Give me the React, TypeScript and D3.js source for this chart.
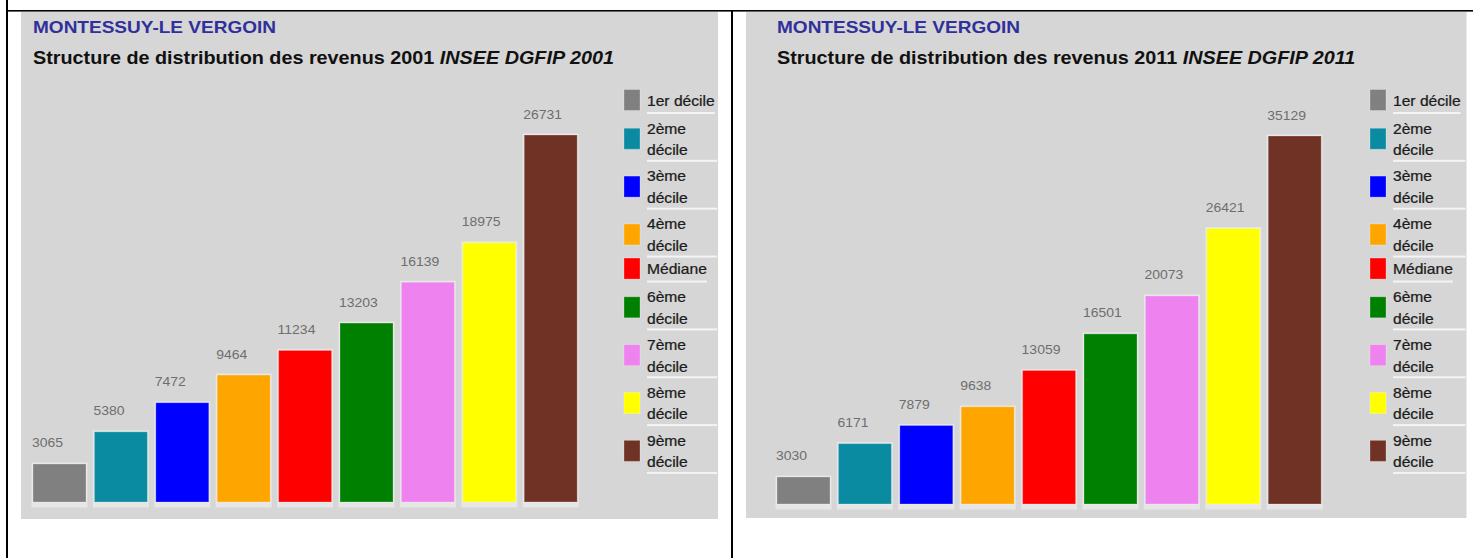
import React from "react";
import * as d3 from "d3";

const categories = ["1er décile", "2ème décile", "3ème décile", "4ème décile", "Médiane", "6ème décile", "7ème décile", "8ème décile", "9ème décile"];
const colors = ["#808080", "#0a8ba1", "#0000ff", "#ffa500", "#ff0000", "#008000", "#ee82ee", "#ffff00", "#6f3224"];
const values2001 = [3065, 5380, 7472, 9464, 11234, 13203, 16139, 18975, 26731];
const values2011 = [3030, 6171, 7879, 9638, 13059, 16501, 20073, 26421, 35129];
const place = "MONTESSUY-LE VERGOIN";

const FONT = "'Liberation Sans', Arial, sans-serif";
const SX = 1.1;

let measureCtx: CanvasRenderingContext2D | null = null;
function measure(text: string, size: number) {
  if (!measureCtx) measureCtx = document.createElement("canvas").getContext("2d");
  if (!measureCtx) return text.length * size * 0.5;
  measureCtx.font = `${size}px ${FONT}`;
  return measureCtx.measureText(text).width * SX;
}

function wrap(label: string): string[] {
  if (label.length > 10) {
    const i = label.indexOf(" ");
    return [label.slice(0, i), label.slice(i + 1)];
  }
  return [label];
}

type ChartProps = {
  year: string;
  values: number[];
  panel: { x0: number; x1: number; y0: number; y1: number };
  barLeft: number;
  barBottom: number;
  barTop: number;
  domainMin: number;
  legendX: number;
};

function Chart({ year, values, panel, barLeft, barBottom, barTop, domainMin, legendX }: ChartProps) {
  const x = d3.scaleBand<string>().domain(categories).range([barLeft, barLeft + 544.2]).paddingInner(0.137).paddingOuter(0);
  const y = d3.scaleLinear().domain([domainMin, d3.max(values) as number]).range([barBottom, barTop]);
  const bw = x.bandwidth();

  let cursor = 88;
  const items = categories.map((c, i) => {
    const lines = wrap(c);
    const h = lines.length === 1 ? 25 : 47.85;
    const top = cursor;
    cursor += h;
    const centers = lines.length === 1 ? [top + 12.5] : [top + 15.5, top + 37];
    return { c, i, lines, top, h, centers };
  });
  const legFont = 14.2;
  const textX = legendX + 23;

  return (
    <g>
      <rect x={panel.x0} y={panel.y0} width={panel.x1 - panel.x0} height={panel.y1 - panel.y0} fill="#d6d6d6" />
      <text transform={`translate(${barLeft},33) scale(${SX},1)`} fontFamily={FONT} fontWeight="bold" fontSize={17.3} fill="#30309a">
        {place}
      </text>
      <text transform={`translate(${barLeft},63.5) scale(${SX},1)`} fontFamily={FONT} fontWeight="bold" fontSize={18} fill="#111">
        {`Structure de distribution des revenus ${year} `}
        <tspan fontStyle="italic">{`INSEE DGFIP ${year}`}</tspan>
      </text>
      {values.map((v, i) => {
        const bx = x(categories[i]) as number;
        const by = y(v);
        return (
          <g key={i}>
            <rect x={bx - 1.5} y={by - 1.5} width={bw + 3} height={barBottom - by + 7} fill="#e6e6e6" />
            <rect x={bx} y={by} width={bw} height={barBottom - by} fill={colors[i]} stroke="rgba(255,255,255,0.25)" strokeWidth={1} />
            <text transform={`translate(${bx - 1},${by - 16.5}) scale(${SX},1)`} fontFamily={FONT} fontSize={12.7} fill="#6e6e6e">
              {v}
            </text>
          </g>
        );
      })}
      {items.map((it) => {
        const sc = (it.centers[0] + it.centers[it.centers.length - 1]) / 2 - 0.5;
        const sepEnd = it.lines.length === 1 ? textX + measure(it.lines[0], legFont) : panel.x1 - 1;
        return (
          <g key={it.c}>
            <rect x={legendX} y={sc - 10.5} width={16} height={21} fill={colors[it.i]} stroke="rgba(255,255,255,0.25)" strokeWidth={1} />
            {it.lines.map((l, j) => (
              <text key={j} transform={`translate(${textX},${it.centers[j] + legFont * 0.36}) scale(${SX},1)`} fontFamily={FONT} fontSize={legFont} fill="#1c1c1c" stroke="#1c1c1c" strokeWidth={0.25}>
                {l}
              </text>
            ))}
            <rect x={textX} y={it.top + it.h - 1} width={sepEnd - textX} height={2} fill="#f4f4f4" />
          </g>
        );
      })}
    </g>
  );
}

export default function App() {
  return (
    <svg width={1473} height={558} style={{ position: "absolute", left: 0, top: 0, background: "#fff" }}>
      <rect x={0} y={0} width={1473} height={558} fill="#fff" />
      <Chart
        year="2001"
        values={values2001}
        panel={{ x0: 21, x1: 718, y0: 12, y1: 519 }}
        barLeft={33}
        barBottom={502}
        barTop={135}
        domainMin={330}
        legendX={624}
      />
      <Chart
        year="2011"
        values={values2011}
        panel={{ x0: 746, x1: 1466.5, y0: 12, y1: 518 }}
        barLeft={777}
        barBottom={504}
        barTop={136}
        domainMin={488}
        legendX={1370}
      />
      <rect x={6} y={0} width={2} height={558} fill="#000" />
      <rect x={6} y={10} width={1467} height={1.6} fill="#000" />
      <rect x={731} y={10} width={2} height={548} fill="#000" />
    </svg>
  );
}
